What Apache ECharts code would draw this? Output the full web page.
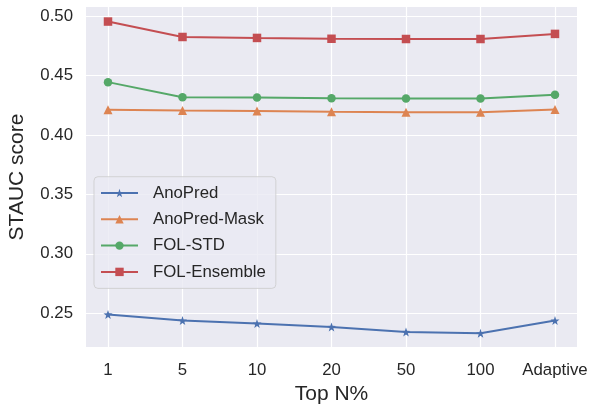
<!DOCTYPE html>
<html>
<head>
<meta charset="utf-8">
<script src="https://cdn.jsdelivr.net/npm/echarts@6/dist/echarts.min.js"></script>
<style>html,body{margin:0;padding:0;background:#fff;}#c{width:590px;height:404px;}</style>
</head>
<body>
<div id="c"></div>
<script>
const categories = ['1', '5', '10', '20', '50', '100', 'Adaptive'];
const anoPred = [0.2489, 0.2438, 0.2413, 0.2384, 0.2342, 0.2331, 0.2438];
const anoPredMask = [0.4212, 0.4207, 0.4203, 0.4196, 0.4192, 0.4192, 0.4214];
const folStd = [0.4445, 0.4318, 0.4315, 0.4310, 0.4308, 0.4308, 0.4339];
const folEnsemble = [0.4955, 0.4825, 0.4817, 0.4810, 0.4808, 0.4808, 0.4851];
const yTickMin = 0.25, yTickMax = 0.50, yTickStep = 0.05;
const yViewMin = 0.22155, yViewMax = 0.50774;

const FONT = "'Liberation Sans', Arial, sans-serif";
const TXT = '#262626';
const STAR = 'path://M0,-10 L2.35,-3.24 L9.51,-3.09 L3.8,1.24 L5.88,8.09 L0,4 L-5.88,8.09 L-3.8,1.24 L-9.51,-3.09 L-2.35,-3.24 Z';

function mk(name, data, color, symbol, size) {
  return {
    name: name, type: 'line', data: data, xAxisIndex: 2, yAxisIndex: 2,
    symbol: symbol, symbolSize: size, showSymbol: true,
    lineStyle: { color: color, width: 2 },
    itemStyle: { color: color, borderWidth: 0 },
    emphasis: { disabled: true }
  };
}

const chart = echarts.init(document.getElementById('c'), null, { renderer: 'canvas' });
chart.setOption({
  animation: false,
  textStyle: { fontFamily: FONT },
  grid: [
    { left: 86, right: 13, top: 7, bottom: 57, show: true, backgroundColor: '#EAEAF2', borderWidth: 0, outerBoundsMode: 'none' },
    { left: 86, right: 13, top: 16.2, bottom: 90.8, outerBoundsMode: 'none' },
    { left: 108, right: 35, top: 7, bottom: 57, outerBoundsMode: 'none' }
  ],
  xAxis: [
    { gridIndex: 0, type: 'value', min: 0, max: 1, show: false },
    { gridIndex: 1, type: 'value', min: 0, max: 1, show: false },
    {
      gridIndex: 2, type: 'category', data: categories, boundaryGap: false,
      axisLine: { show: false }, axisTick: { show: false },
      axisLabel: { interval: 0, color: TXT, fontSize: 16.8, fontFamily: FONT, margin: 15 },
      splitLine: { show: true, interval: 0, lineStyle: { color: '#ffffff', width: 1.2 } },
      name: 'Top N%', nameLocation: 'middle', nameGap: 33,
      nameTextStyle: { color: TXT, fontSize: 21, fontFamily: FONT }
    }
  ],
  yAxis: [
    {
      gridIndex: 0, type: 'value', min: 0, max: 1,
      axisLine: { show: false }, axisTick: { show: false }, axisLabel: { show: false }, splitLine: { show: false },
      name: 'STAUC score', nameLocation: 'middle', nameGap: 58,
      nameTextStyle: { color: TXT, fontSize: 21, fontFamily: FONT }
    },
    {
      gridIndex: 1, type: 'value', min: yTickMin, max: yTickMax, interval: yTickStep,
      axisLine: { show: false }, axisTick: { show: false },
      axisLabel: { color: TXT, fontSize: 16.8, fontFamily: FONT, margin: 13, formatter: v => v.toFixed(2) },
      splitLine: { show: true, lineStyle: { color: '#ffffff', width: 1.2 } }
    },
    { gridIndex: 2, type: 'value', min: yViewMin, max: yViewMax, show: false }
  ],
  legend: {
    orient: 'vertical', left: 94, top: 176.7,
    padding: [7.8, 10, 8, 6],
    itemWidth: 37, itemHeight: 10.5, itemGap: 9.3,
    backgroundColor: 'rgba(234,234,242,0.8)',
    borderColor: 'rgba(204,204,204,0.8)', borderWidth: 1, borderRadius: 4,
    textStyle: { color: TXT, fontSize: 16.8, fontFamily: FONT, padding: [0, 0, 0, 10] },
    data: ['AnoPred', 'AnoPred-Mask', 'FOL-STD', 'FOL-Ensemble']
  },
  series: [
    mk('AnoPred', anoPred, '#4C72B0', STAR, 9),
    mk('AnoPred-Mask', anoPredMask, '#DD8452', 'triangle', 9),
    mk('FOL-STD', folStd, '#55A868', 'circle', 8.5),
    mk('FOL-Ensemble', folEnsemble, '#C44E52', 'rect', 8.5)
  ]
});
</script>
</body>
</html>
